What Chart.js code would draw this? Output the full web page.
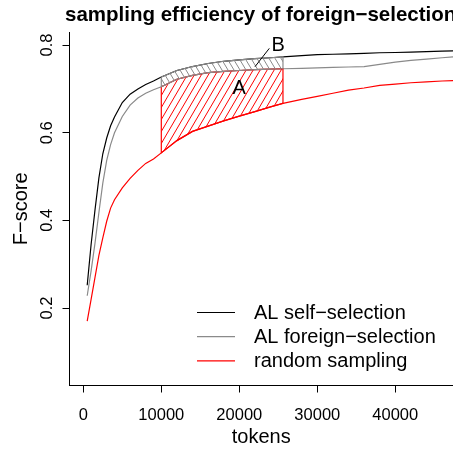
<!DOCTYPE html>
<html><head><meta charset="utf-8">
<script src="https://cdn.jsdelivr.net/npm/chart.js@4.4.0/dist/chart.umd.min.js"></script>
<style>html,body{margin:0;padding:0;background:#fff;overflow:hidden}</style>
</head><body>
<canvas id="c" width="453" height="451" style="display:block;width:453px;height:451px"></canvas>
<script>
// ---- data ----
const tokens = [500, 1000, 1500, 2000, 2500, 3000, 3500, 4000, 5000, 6000, 7000, 8000, 9000, 10000,
  12000, 14000, 16000, 18000, 20000, 22000, 24000, 25600, 28000, 30000, 32000, 34000, 36000, 38000,
  40000, 42000, 44000, 46000, 48000];
const selfSelection = [0.252, 0.345, 0.424, 0.497, 0.552, 0.588, 0.616, 0.636, 0.669, 0.688, 0.700, 0.710, 0.718, 0.727,
  0.742, 0.751, 0.758, 0.763, 0.766, 0.769, 0.771, 0.773, 0.776, 0.778, 0.779, 0.780, 0.781, 0.7825,
  0.783, 0.784, 0.785, 0.786, 0.787];
const foreignSelection = [0.228, 0.285, 0.348, 0.418, 0.485, 0.537, 0.573, 0.600, 0.637, 0.663, 0.679, 0.690, 0.698, 0.705,
  0.722, 0.731, 0.737, 0.740, 0.742, 0.744, 0.745, 0.746, 0.747, 0.748, 0.749, 0.750, 0.751, 0.756,
  0.761, 0.765, 0.768, 0.771, 0.774];
const randomSampling = [0.170, 0.220, 0.270, 0.320, 0.360, 0.398, 0.428, 0.447, 0.474, 0.496, 0.514, 0.530, 0.540, 0.554,
  0.582, 0.603, 0.615, 0.627, 0.638, 0.648, 0.659, 0.667, 0.676, 0.683, 0.690, 0.697, 0.702, 0.708,
  0.711, 0.714, 0.716, 0.718, 0.719];
const xTickValues = [0, 10000, 20000, 30000, 40000];
const yTickValues = [0.2, 0.4, 0.6, 0.8];
const seriesLabels = ['AL self\u2212selection', 'AL foreign\u2212selection', 'random sampling'];
const titleText = 'sampling efficiency of foreign\u2212selection';
const xLabel = 'tokens';
const yLabel = 'F\u2212score';
const areaRange = [10000, 25600];
const labelA = {text: 'A', x: 20000, y: 0.70};
const labelB = {text: 'B', x: 25000, y: 0.80};
const leaderB = [{x: 23850, y: 0.7925}, {x: 22010, y: 0.7506}];

// ---- helpers ----
const FONT = '"Liberation Sans", Arial, Helvetica, sans-serif';
const pts = vals => tokens.map((t, i) => ({x: t, y: vals[i]}));
const inRange = tokens.map((t, i) => i).filter(i => tokens[i] >= areaRange[0] && tokens[i] <= areaRange[1]);
function band(upper, lower) {
  const top = inRange.map(i => ({x: tokens[i], y: upper[i]}));
  const bot = inRange.slice().reverse().map(i => ({x: tokens[i], y: lower[i]}));
  return top.concat(bot, [top[0]]);
}
function hatch(color, w, h, dir) {
  const c = document.createElement('canvas'); c.width = w; c.height = h;
  const g = c.getContext('2d'); g.strokeStyle = color; g.lineWidth = 1;
  for (let k = -1; k <= 1; k++) {
    g.beginPath();
    if (dir > 0) { g.moveTo(k * w - w, 2 * h); g.lineTo(k * w + 2 * w, -h); }
    else { g.moveTo(k * w - w, -h); g.lineTo(k * w + 2 * w, 2 * h); }
    g.stroke();
  }
  return g.createPattern(c, 'repeat');
}
const RED = '#ff0000', GRAY = '#8a8a8a', BLACK = '#000000';

const textPlugin = {
  id: 'texts',
  afterDraw(chart) {
    const {ctx, chartArea: a, scales: {x, y}} = chart;
    ctx.save();
    ctx.fillStyle = '#000';
    ctx.textAlign = 'left'; ctx.textBaseline = 'alphabetic';
    ctx.font = 'bold 20.5px ' + FONT;
    ctx.fillText(titleText, 65, 21);
    ctx.textAlign = 'center';
    ctx.font = '16.5px ' + FONT;
    xTickValues.forEach(v => ctx.fillText(String(v), x.getPixelForValue(v), 420));
    ctx.font = '20px ' + FONT;
    ctx.fillText(xLabel, (a.left + a.right) / 2, 443);
    ctx.font = '16.5px ' + FONT;
    yTickValues.forEach(v => {
      ctx.save(); ctx.translate(52, y.getPixelForValue(v)); ctx.rotate(-Math.PI / 2);
      ctx.fillText(v.toFixed(1), 0, 0); ctx.restore();
    });
    ctx.font = '20px ' + FONT;
    ctx.save(); ctx.translate(27, (a.top + a.bottom) / 2); ctx.rotate(-Math.PI / 2);
    ctx.fillText(yLabel, 0, 0); ctx.restore();
    // annotations
    ctx.textBaseline = 'middle';
    ctx.fillText(labelA.text, x.getPixelForValue(labelA.x), y.getPixelForValue(labelA.y));
    ctx.fillText(labelB.text, x.getPixelForValue(labelB.x), y.getPixelForValue(labelB.y));
    ctx.strokeStyle = '#000'; ctx.lineWidth = 1;
    ctx.beginPath();
    ctx.moveTo(x.getPixelForValue(leaderB[0].x), y.getPixelForValue(leaderB[0].y));
    ctx.lineTo(x.getPixelForValue(leaderB[1].x), y.getPixelForValue(leaderB[1].y));
    ctx.stroke();
    // legend
    const colors = [BLACK, GRAY, RED];
    ctx.textAlign = 'left';
    seriesLabels.forEach((lab, i) => {
      const yy = 312.5 + i * 24.2;
      ctx.strokeStyle = colors[i]; ctx.lineWidth = 1.2;
      ctx.beginPath(); ctx.moveTo(197, yy); ctx.lineTo(235, yy); ctx.stroke();
      ctx.fillText(lab, 254, yy + 1);
    });
    ctx.restore();
  }
};

const lineDs = (label, vals, color, order) => ({
  label, data: pts(vals), borderColor: color, backgroundColor: color, borderWidth: 1.2,
  pointRadius: 0, tension: 0, fill: false, order
});

new Chart(document.getElementById('c'), {
  type: 'line',
  data: {
    datasets: [
      lineDs(seriesLabels[0], selfSelection, BLACK, 4),
      lineDs(seriesLabels[1], foreignSelection, GRAY, 3),
      lineDs(seriesLabels[2], randomSampling, RED, 2),
      {label: 'A', data: band(foreignSelection, randomSampling), borderColor: RED, borderWidth: 1.2,
       backgroundColor: hatch(RED, 7, 12, 1), fill: 'shape', pointRadius: 0, tension: 0, order: 1},
      {label: 'B', data: band(selfSelection, foreignSelection), borderColor: GRAY, borderWidth: 1.2,
       backgroundColor: hatch(GRAY, 6, 10, -1), fill: 'shape', pointRadius: 0, tension: 0, order: 0}
    ]
  },
  options: {
    responsive: false, animation: false, devicePixelRatio: 1,
    layout: {padding: {top: 32, right: 0, left: 0, bottom: 0}},
    plugins: {legend: {display: false}, tooltip: {enabled: false}, title: {display: false}},
    scales: {
      x: {
        type: 'linear', min: -1770, max: 47400,
        afterBuildTicks: s => { s.ticks = xTickValues.map(v => ({value: v})); },
        afterFit: s => { s.height = 65.5; },
        grid: {drawOnChartArea: false, drawTicks: true, tickLength: 7, color: '#000', lineWidth: 1},
        border: {display: true, color: '#000', width: 1},
        ticks: {display: false}
      },
      y: {
        type: 'linear', min: 0.0233, max: 0.8298,
        afterBuildTicks: s => { s.ticks = yTickValues.map(v => ({value: v})); },
        afterFit: s => { s.width = 69.5; },
        grid: {drawOnChartArea: false, drawTicks: true, tickLength: 7, color: '#000', lineWidth: 1},
        border: {display: true, color: '#000', width: 1},
        ticks: {display: false}
      }
    }
  },
  plugins: [textPlugin]
});
</script>
</body></html>
